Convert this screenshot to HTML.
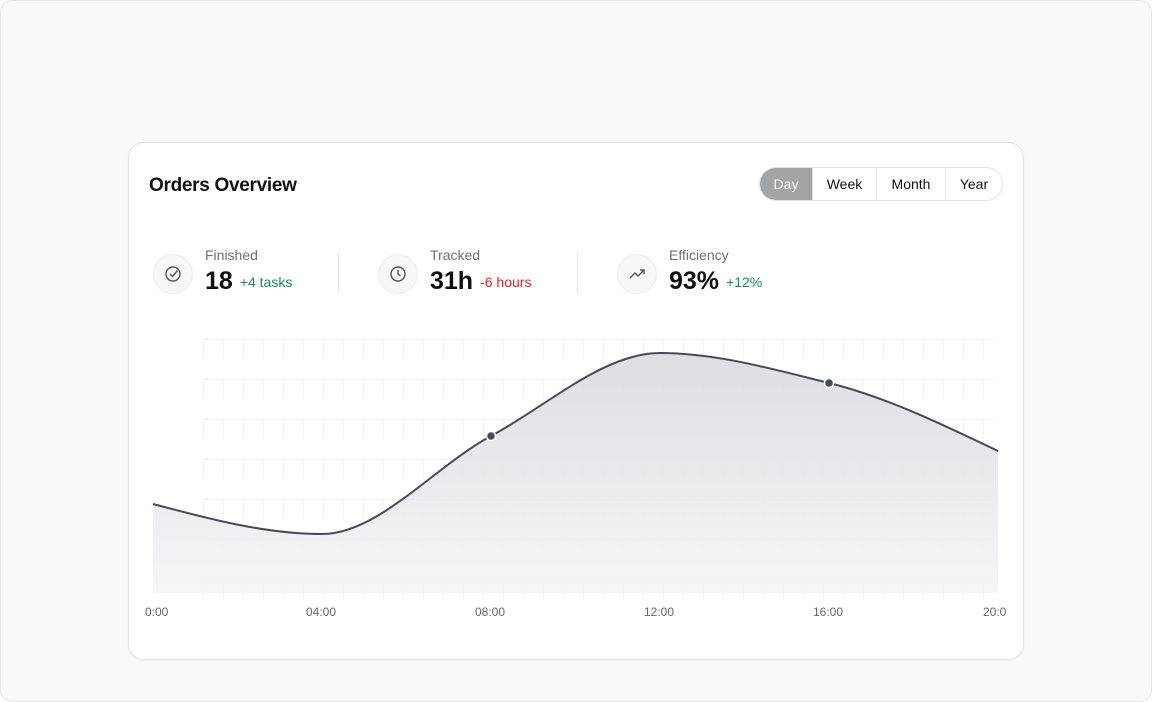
<!DOCTYPE html>
<html><head><style>
body{margin:0;width:1152px;height:702px;background:#fff;font-family:"Liberation Sans",sans-serif;overflow:hidden}
.frame{position:absolute;left:0;top:0;width:1150px;height:700px;border:1px solid #e6e6e6;border-radius:12px;background:#f9f9f9}
.card{position:absolute;left:128px;top:142px;width:894px;height:516px;border:1px solid #e3e3e3;border-radius:16px;background:#fff;box-shadow:0 1px 3px rgba(0,0,0,.04)}
.title{position:absolute;left:20px;top:32px;font-size:19px;font-weight:bold;color:#111;letter-spacing:-0.3px}
.seg{position:absolute;left:630px;top:24px;height:32px;border:1px solid #e3e3e3;border-radius:17px;display:flex;overflow:hidden;font-size:14px}
.seg div{display:flex;align-items:center;justify-content:center;border-left:1px solid #e6e6e6;color:#111}
.seg div:first-child{border-left:none;background:#a2a4a5;color:#f4f4f4}
.stat{position:absolute;top:108px}
.ic{position:absolute;left:0;top:3px;width:38px;height:38px;border:1px solid #ececec;border-radius:50%;background:#f7f7f7}
.lab{position:absolute;left:52px;top:-4px;font-size:14px;color:#707070;white-space:nowrap}
.val{position:absolute;left:52px;top:16px;font-size:25px;font-weight:bold;color:#111;white-space:nowrap}
.val span{font-size:14px;font-weight:normal;margin-left:7px;position:relative;top:-2px}
.sep{position:absolute;top:110px;width:1px;height:40px;background:#e6e6e6}
.g{color:#1f8a5b}.r{color:#e0212b}
.xl{position:absolute;top:462px;font-size:12px;color:#666}
</style></head><body>
<div class="frame"></div>
<div class="card">
<div class="title">Orders Overview</div>
<div class="seg"><div style="width:52px">Day</div><div style="width:63px">Week</div><div style="width:68px">Month</div><div style="width:56px">Year</div></div>
<div class="stat" style="left:24px"><div class="ic"><svg width="38" height="38" viewBox="0 0 38 38"><circle cx="19" cy="19" r="7" fill="none" stroke="#555" stroke-width="1.4"/><path d="M16 19l2.5 2.5 5-6" fill="none" stroke="#555" stroke-width="1.4"/></svg></div><div class="lab">Finished</div><div class="val">18<span class="g">+4 tasks</span></div></div>
<div class="sep" style="left:209px"></div>
<div class="stat" style="left:249px"><div class="ic"><svg width="38" height="38" viewBox="0 0 38 38"><circle cx="19" cy="19" r="7" fill="none" stroke="#555" stroke-width="1.4"/><path d="M19 15v4l2.5 2" fill="none" stroke="#555" stroke-width="1.4"/></svg></div><div class="lab">Tracked</div><div class="val">31h<span class="r">-6 hours</span></div></div>
<div class="sep" style="left:448px"></div>
<div class="stat" style="left:488px"><div class="ic"><svg width="38" height="38" viewBox="0 0 38 38"><path d="M12 23l5-5 3 3 6-6M22 15h4v4" fill="none" stroke="#555" stroke-width="1.4"/></svg></div><div class="lab">Efficiency</div><div class="val">93%<span class="g">+12%</span></div></div>
<div class="xl" style="left:16px">0:00</div>
<div class="xl" style="left:177px">04:00</div>
<div class="xl" style="left:346px">08:00</div>
<div class="xl" style="left:515px">12:00</div>
<div class="xl" style="left:684px">16:00</div>
<div class="xl" style="left:854px">20:0</div>
</div>
<svg style="position:absolute;left:0;top:0" width="1152" height="702">
<defs><linearGradient id="f" x1="0" x2="0" y1="353" y2="593" gradientUnits="userSpaceOnUse"><stop offset="0" stop-color="#d9dadf" stop-opacity="0.9"/><stop offset="1" stop-color="#f3f3f5" stop-opacity="0.8"/></linearGradient>
<pattern id="t" x="203" y="0" width="20" height="40" patternUnits="userSpaceOnUse"><line x1="0.5" y1="0" x2="0.5" y2="40" stroke="#f3f3f3"/></pattern></defs>
<g stroke="#f2f2f2"><line x1="203" y1="339.5" x2="993" y2="339.5"/><line x1="203" y1="379.5" x2="993" y2="379.5"/><line x1="203" y1="419.5" x2="993" y2="419.5"/><line x1="203" y1="459.5" x2="993" y2="459.5"/><line x1="203" y1="499.5" x2="993" y2="499.5"/><line x1="203" y1="539.5" x2="993" y2="539.5"/><line x1="203" y1="579.5" x2="993" y2="579.5"/></g>
<g fill="url(#t)"><rect x="203" y="340" width="784" height="19"/><rect x="203" y="380" width="784" height="19"/><rect x="203" y="420" width="784" height="19"/><rect x="203" y="460" width="784" height="19"/><rect x="203" y="500" width="784" height="19"/><rect x="203" y="540" width="784" height="19"/><rect x="203" y="580" width="784" height="19"/></g>
<path d="M153 504C209.3 519 265.7 534 322 534C378.3 534 434.7 466.2 491 436C547.3 405.8 603.7 353 660 353C716.3 353 772.7 369.1 829 383C885.3 396.9 941.7 424 998 451L998 593L153 593Z" fill="url(#f)"/>
<path d="M153 504C209.3 519 265.7 534 322 534C378.3 534 434.7 466.2 491 436C547.3 405.8 603.7 353 660 353C716.3 353 772.7 369.1 829 383C885.3 396.9 941.7 424 998 451" fill="none" stroke="#474b58" stroke-width="2"/>
<circle cx="491" cy="436" r="4.5" fill="#474b58" stroke="#fff" stroke-width="1.5"/>
<circle cx="829" cy="383" r="4.5" fill="#474b58" stroke="#fff" stroke-width="1.5"/>
</svg>
</body></html>
